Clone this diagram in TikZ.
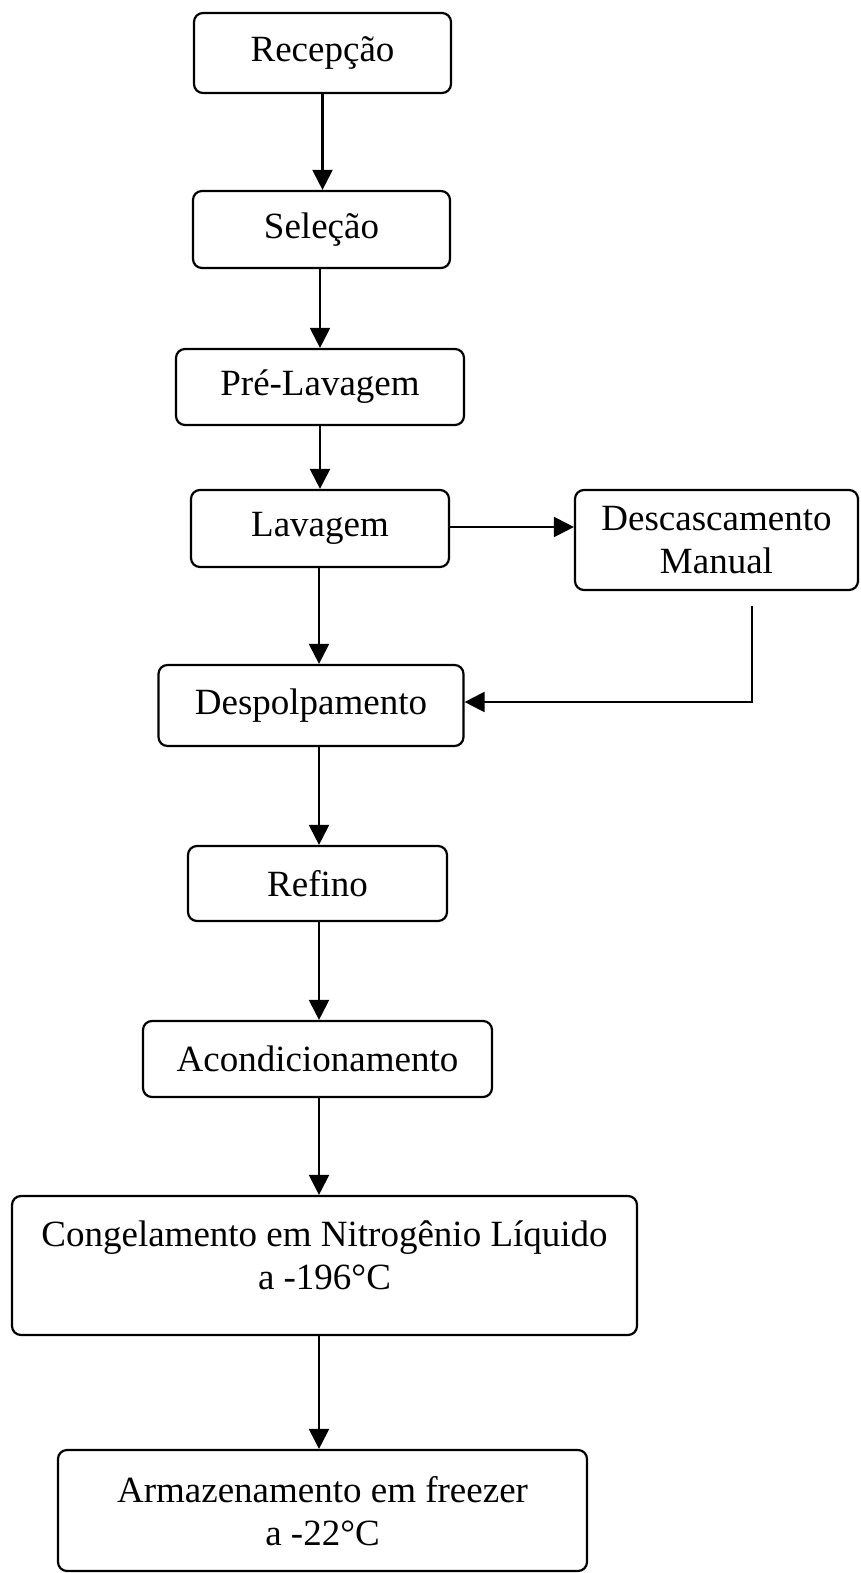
\documentclass[tikz,border=0pt]{standalone}
\usepackage{fontspec}
\setmainfont{Liberation Serif}
\usetikzlibrary{arrows.meta}
\begin{document}
\begin{tikzpicture}[x=1pt,y=-1pt,
  box/.style={draw, line width=2.2pt, rounded corners=9pt, inner sep=0pt, align=center,
    font=\fontsize{37}{43}\selectfont},
  lbl/.style={inner sep=0pt, align=center, font=\fontsize{37}{43}\selectfont},
  arr/.style={line width=2.2pt, -{Triangle[length=20pt,width=20pt]}},
  ln/.style={line width=2.2pt}]
\useasboundingbox (0,0) rectangle (860,1573);
\fill[white] (0,0) rectangle (860,1573);
\node[box, minimum width=257pt, minimum height=80pt] (rec) at (322.5,53) {Recepção};
\node[box, minimum width=257pt, minimum height=77pt] (sel) at (321.5,229.5) {Seleção};
\node[box, minimum width=288pt, minimum height=76pt] (pre) at (320,387) {Pré-Lavagem};
\node[box, minimum width=258pt, minimum height=77pt] (lav) at (320,528.5) {Lavagem};
\node[box, minimum width=283pt, minimum height=100pt] (desc) at (716.5,540) {Descascamento\\Manual};
\node[box, minimum width=305pt, minimum height=81pt] (desp) at (311,705.5) {Despolpamento};
\node[box, minimum width=259pt, minimum height=75pt] (ref) at (317.5,883.5) {Refino};
\node[box, minimum width=349pt, minimum height=76pt] (acon) at (317.5,1059) {Acondicionamento};
\node[box, minimum width=625pt, minimum height=139pt] (cong) at (324.5,1265.5) {};
\node[lbl] (congt) at (324.5,1255) {Congelamento em Nitrogênio Líquido\\a -196°C};
\node[box, minimum width=529pt, minimum height=121pt] (arm) at (322.5,1510.5) {};
\node[lbl] (armt) at (322.5,1511) {Armazenamento em freezer\\a -22°C};
\coordinate (x1) at (322.5,0);
\coordinate (x2) at (320,0);
\coordinate (x3) at (319,0);
\draw[arr] (rec.south -| x1) -- (sel.north -| x1);
\draw[arr] (sel.south -| x2) -- (pre.north -| x2);
\draw[arr] (pre.south -| x2) -- (lav.north -| x2);
\draw[arr] (lav.south -| x3) -- (desp.north -| x3);
\draw[arr] (desp.south -| x3) -- (ref.north -| x3);
\draw[arr] (ref.south -| x3) -- (acon.north -| x3);
\draw[arr] (acon.south -| x3) -- (cong.north -| x3);
\draw[arr] (cong.south -| x3) -- (arm.north -| x3);
\coordinate (hy) at (0,527);
\draw[arr] (lav.east |- hy) -- (desc.west |- hy);
\coordinate (dtop) at (752,606);
\coordinate (dy) at (0,702);
\draw[arr] (dtop) -- (dtop |- dy) -- (desp.east |- dy);
\end{tikzpicture}
\end{document}
